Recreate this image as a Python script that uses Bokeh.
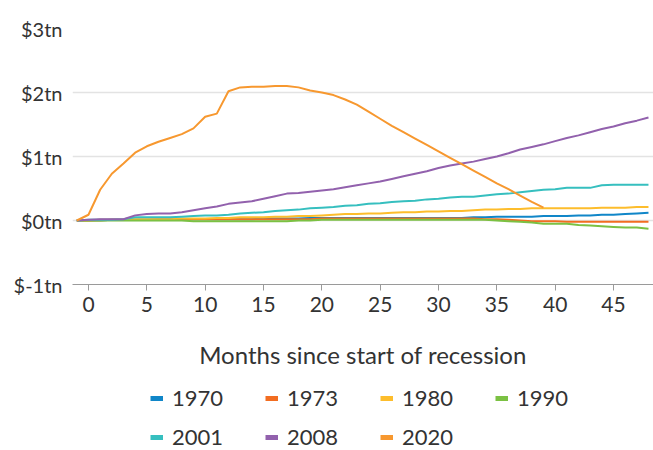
from bokeh.plotting import figure
from bokeh.models import Legend, LegendItem, FixedTicker
from bokeh.layouts import column
from bokeh.embed import file_html
from bokeh.resources import INLINE

months = list(range(-1, 49))
months_2020 = list(range(-1, 40))

s1970 = [0, 0.0, 0.0, 0.01, 0.01, 0.01, 0.01, 0.01, 0.01, 0.02, 0.02,
         0.02, 0.02, 0.02, 0.02, 0.02, 0.03, 0.03, 0.03, 0.03, 0.04,
         0.04, 0.04, 0.04, 0.04, 0.04, 0.04, 0.04, 0.04, 0.04, 0.04,
         0.04, 0.04, 0.04, 0.05, 0.05, 0.06,
         0.06, 0.06, 0.06, 0.07, 0.07, 0.07,
         0.08, 0.08, 0.09, 0.09, 0.10, 0.11, 0.12]
s1973 = [0, 0.0, 0.01, 0.01, 0.01, 0.01, 0.01, 0.02, 0.02, 0.02, 0.02,
         0.02, 0.02, 0.02, 0.02, 0.02, 0.02, 0.02, 0.02, 0.02, 0.02,
         0.03, 0.03, 0.03, 0.03, 0.03, 0.03, 0.03, 0.03, 0.03, 0.03, 0.03, 0.03, 0.03, 0.03,
         0.02, 0.02, 0.01, 0.0,
         -0.01, -0.01, -0.01, -0.02, -0.02, -0.02, -0.02, -0.02, -0.02, -0.02, -0.02]
s1980 = [0, 0.0, 0.0, 0.01, 0.01, 0.02, 0.02, 0.02, 0.02, 0.03, 0.03,
         0.03, 0.04, 0.04, 0.05, 0.05, 0.05, 0.06, 0.06, 0.07, 0.07,
         0.08, 0.09, 0.10, 0.10, 0.11, 0.11, 0.12, 0.13, 0.13, 0.14,
         0.14, 0.15, 0.15, 0.16, 0.17, 0.17, 0.18, 0.18, 0.19, 0.19,
         0.19, 0.19, 0.19, 0.19, 0.20, 0.20, 0.20, 0.21, 0.21]
s1990 = [0, 0.0, 0.0, 0.0, 0.0, 0.0, 0.0, 0.0, 0.0, 0.0, -0.01,
         -0.01, -0.01, -0.01, -0.01, -0.01, -0.01, -0.01, -0.01, 0.0, 0.0,
         0.01, 0.01, 0.01, 0.01, 0.01, 0.01, 0.01, 0.01, 0.01, 0.01,
         0.01, 0.01, 0.01, 0.01, 0.01, 0.0,
         -0.01, -0.02, -0.03, -0.05, -0.05, -0.05,
         -0.07, -0.08, -0.09, -0.10, -0.11, -0.11, -0.13]
s2001 = [0, 0.01, 0.01, 0.01, 0.02, 0.05, 0.05, 0.05, 0.05, 0.06, 0.07,
         0.08, 0.08, 0.09, 0.11, 0.12, 0.13, 0.15, 0.16, 0.17, 0.19,
         0.20, 0.21, 0.23, 0.24, 0.26, 0.27, 0.29, 0.30, 0.31, 0.33,
         0.34, 0.36, 0.37, 0.37, 0.39, 0.41, 0.42, 0.44, 0.46, 0.48,
         0.49, 0.51, 0.51, 0.51, 0.55, 0.56, 0.56, 0.56, 0.56]
s2008 = [0, 0.01, 0.02, 0.02, 0.02, 0.08, 0.10, 0.11, 0.11, 0.13, 0.16,
         0.19, 0.22, 0.26, 0.28, 0.30, 0.34, 0.38, 0.42, 0.43, 0.45,
         0.47, 0.49, 0.52, 0.55, 0.58, 0.61, 0.65, 0.69, 0.73, 0.77,
         0.82, 0.86, 0.89, 0.92, 0.96, 1.00, 1.05, 1.11, 1.15, 1.19,
         1.24, 1.29, 1.33, 1.38, 1.43, 1.47, 1.52, 1.56, 1.61]
s2020 = [0, 0.09, 0.48, 0.73, 0.89, 1.06, 1.16, 1.23, 1.29, 1.35, 1.44,
         1.62, 1.67, 2.02, 2.08, 2.09, 2.09, 2.10, 2.10, 2.08, 2.03,
         2.00, 1.96, 1.89, 1.81, 1.70, 1.59, 1.48, 1.38, 1.28, 1.18,
         1.08, 0.98, 0.88, 0.78, 0.68, 0.58, 0.49, 0.39, 0.29, 0.20]

series_names = ["1970", "1973", "1980", "1990", "2001", "2008", "2020"]
series_values = [s1970, s1973, s1980, s1990, s2001, s2008, s2020]
series_x = [months] * 6 + [months_2020]
colors = ["#1086c8", "#f26d21", "#fdbd2c", "#7bc143", "#36bfbf", "#9261ad", "#f7982f"]

x_ticks = [0, 5, 10, 15, 20, 25, 30, 35, 40, 45]
y_ticks = [-1, 0, 1, 2, 3]
y_tick_labels = ["$-1tn", "$0tn", "$1tn", "$2tn", "$3tn"]

FONT = "Lato"
TXT = "#333333"
NAN = float("nan")

p = figure(width=653, height=374, output_backend="svg", toolbar_location=None,
           x_range=(-1.37, 48.43), y_range=(-1, 3))
p.min_border_left = 72
p.min_border_top = 28
p.min_border_right = 0
p.min_border_bottom = 90
p.outline_line_color = None
p.background_fill_color = "white"

p.xgrid.grid_line_color = None
p.ygrid.grid_line_color = "#e3e3e3"
p.ygrid.grid_line_width = 1.5

p.yaxis.ticker = FixedTicker(ticks=y_ticks)
p.yaxis.major_label_overrides = {t: l for t, l in zip(y_ticks, y_tick_labels)}
p.yaxis.axis_line_color = None
p.yaxis.major_tick_line_color = None
p.yaxis.major_tick_in = 0
p.yaxis.major_tick_out = 0
p.yaxis.minor_tick_line_color = None
p.yaxis.major_label_text_font = FONT
p.yaxis.major_label_text_font_size = "20px"
p.yaxis.major_label_text_color = TXT
p.yaxis.major_label_standoff = 10

p.xaxis.ticker = FixedTicker(ticks=x_ticks)
p.xaxis.axis_line_color = "#9a9a9a"
p.xaxis.major_tick_line_color = "#9a9a9a"
p.xaxis.major_tick_in = 0
p.xaxis.major_tick_out = 6
p.xaxis.minor_tick_line_color = None
p.xaxis.major_label_text_font = FONT
p.xaxis.major_label_text_font_size = "21px"
p.xaxis.major_label_text_color = TXT
p.xaxis.major_label_standoff = 6
p.xaxis.axis_label = "Months since start of recession"
p.xaxis.axis_label_text_font = FONT
p.xaxis.axis_label_text_font_size = "24px"
p.xaxis.axis_label_text_font_style = "normal"
p.xaxis.axis_label_text_color = TXT
p.xaxis.axis_label_standoff = 25

for xs, ys, c in zip(series_x, series_values, colors):
    p.line(xs, ys, line_color=c, line_width=2, line_join="round")

# legend hosted in a second, axis-less figure
lf = figure(width=653, height=76, output_backend="svg", toolbar_location=None,
            x_axis_type=None, y_axis_type=None, x_range=(0, 1), y_range=(0, 1))
lf.min_border_left = 0
lf.min_border_right = 0
lf.min_border_top = 0
lf.min_border_bottom = 0
lf.outline_line_color = None
lf.xgrid.grid_line_color = None
lf.ygrid.grid_line_color = None

items = []
for name, c in zip(series_names, colors):
    dummy = lf.line(x=[NAN], y=[NAN], line_color=c, line_width=5, line_cap="butt")
    items.append(LegendItem(label=name, renderers=[dummy]))

legend = Legend(items=items, orientation="horizontal", ncols=4, location=(78, 0))
legend.label_text_font = FONT
legend.label_text_font_size = "22px"
legend.label_text_color = TXT
legend.glyph_width = 13
legend.glyph_height = 20
legend.label_standoff = 9
legend.label_width = 81
legend.spacing = 12
legend.border_line_color = None
legend.background_fill_alpha = 0
legend.padding = 0
legend.margin = 0
lf.add_layout(legend, "center")

open("out.html", "w").write(file_html(column(p, lf, spacing=0), INLINE))
